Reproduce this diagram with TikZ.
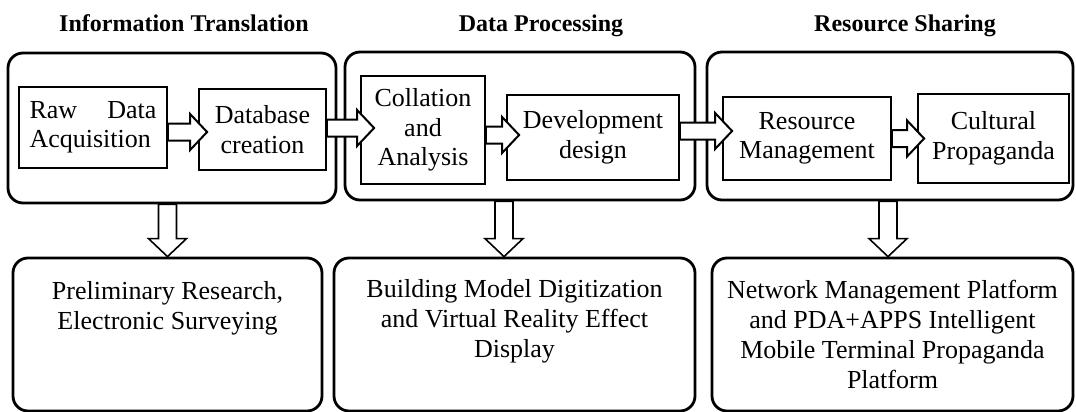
\documentclass[tikz,border=0pt]{standalone}
\usepackage{fontspec}
\setmainfont{Liberation Serif}
\usetikzlibrary{calc,positioning}

\tikzset{
  heading/.style={font=\fontsize{24}{28}\selectfont\bfseries, anchor=base, inner sep=0pt},
  stage/.style={draw, line width=2.8pt, rounded corners=15pt},
  task/.style={draw, line width=1.8pt, align=center, inner sep=0pt, font=\fontsize{26}{29.5}\selectfont},
  result/.style={draw, line width=2.8pt, rounded corners=15pt},
  resulttext/.style={align=center, inner sep=0pt, font=\fontsize{26}{30}\selectfont},
  blockarrow/.style={draw, fill=white, line width=2pt, line join=miter},
}

% hollow block arrows: #1 = start, #2 = tip
\newcommand{\harrow}[2]{%
  \draw[blockarrow] let \p1=#1, \p2=#2 in
    (\x1,\y1+8.5) -- (\x2-17,\y1+8.5) -- (\x2-17,\y1+18) -- (\x2,\y1)
    -- (\x2-17,\y1-18) -- (\x2-17,\y1-8.5) -- (\x1,\y1-8.5) -- cycle;}
\newcommand{\varrow}[2]{%
  \draw[blockarrow, line width=1.6pt] let \p1=#1, \p2=#2 in
    (\x2-9,\y1) -- (\x2-9,\y2+18) -- (\x2-19,\y2+18) -- (\x2,\y2)
    -- (\x2+19,\y2+18) -- (\x2+9,\y2+18) -- (\x2+9,\y1) -- cycle;}

\begin{document}
\begin{tikzpicture}[x=1pt, y=-1pt]
  \useasboundingbox (0,0) rectangle (1076,412);

  % headings
  \node[heading] (hA) at (184,32) {Information Translation};
  \node[heading] (hB) at (541,32) {Data Processing};
  \node[heading] (hC) at (905,32) {Resource Sharing};

  % stage frames
  \node[stage, minimum width=328pt, minimum height=150pt] (fA) at (172,128) {};
  \node[stage, minimum width=350pt, minimum height=148pt] (fB) at (520,126) {};
  \node[stage, minimum width=366pt, minimum height=148pt] (fC) at (890,126) {};

  % tasks
  \node[task, minimum width=148pt, minimum height=81pt, align=left] (raw) at (93,127.5)
    {\makebox[127pt][s]{Raw\hfill Data}\\Acquisition};
  \node[task, minimum width=127pt, minimum height=81pt] (db) at (262.5,129.5) {Database\\creation};
  \node[task, minimum width=124pt, minimum height=108pt] (coll) at (423,130) {Collation\\and\\Analysis};
  \node[task, minimum width=172pt, minimum height=85pt] (dev) at (593,137.5) {Development\\design};
  \node[task, minimum width=168pt, minimum height=83pt] (res) at (807,138.5) {Resource\\Management};
  \node[task, minimum width=151pt, minimum height=89pt] (cult) at (993.5,138.5) {Cultural\\Propaganda};

  % results
  \node[result, minimum width=309pt, minimum height=153pt] (bA) at (167.5,334.5) {};
  \node[result, minimum width=361pt, minimum height=153pt] (bB) at (514.5,334.5) {};
  \node[result, minimum width=361pt, minimum height=153pt] (bC) at (892.5,334.5) {};
  \node[resulttext, below=25pt of bA.north] (tA) {Preliminary Research,\\Electronic Surveying};
  \node[resulttext, below=23pt of bB.north] (tB)
    {Building Model Digitization\\and Virtual Reality Effect\\Display};
  \node[resulttext, below=23pt of bC.north] (tC)
    {Network Management Platform\\and PDA+APPS Intelligent\\Mobile Terminal Propaganda\\Platform};

  % arrows
  \harrow{($(raw.east)+(0,4.5)$)}{($(db.west)+(9,0)$)}
  \harrow{($(db.east)+(0,-1.5)$)}{($(coll.west)+(14,0)$)}
  \harrow{($(coll.east)+(0,5)$)}{($(dev.west)+(13,0)$)}
  \harrow{($(dev.east)+(0,-6.5)$)}{($(res.west)+(10,0)$)}
  \harrow{(res.east)}{($(cult.west)+(7,0)$)}
  \varrow{(fA.south)}{(bA.north)}
  \varrow{(fB.south)}{($(bB.north)+(-10.5,0)$)}
  \varrow{(fC.south)}{($(bC.north)+(-4.5,0)$)}
\end{tikzpicture}
\end{document}
